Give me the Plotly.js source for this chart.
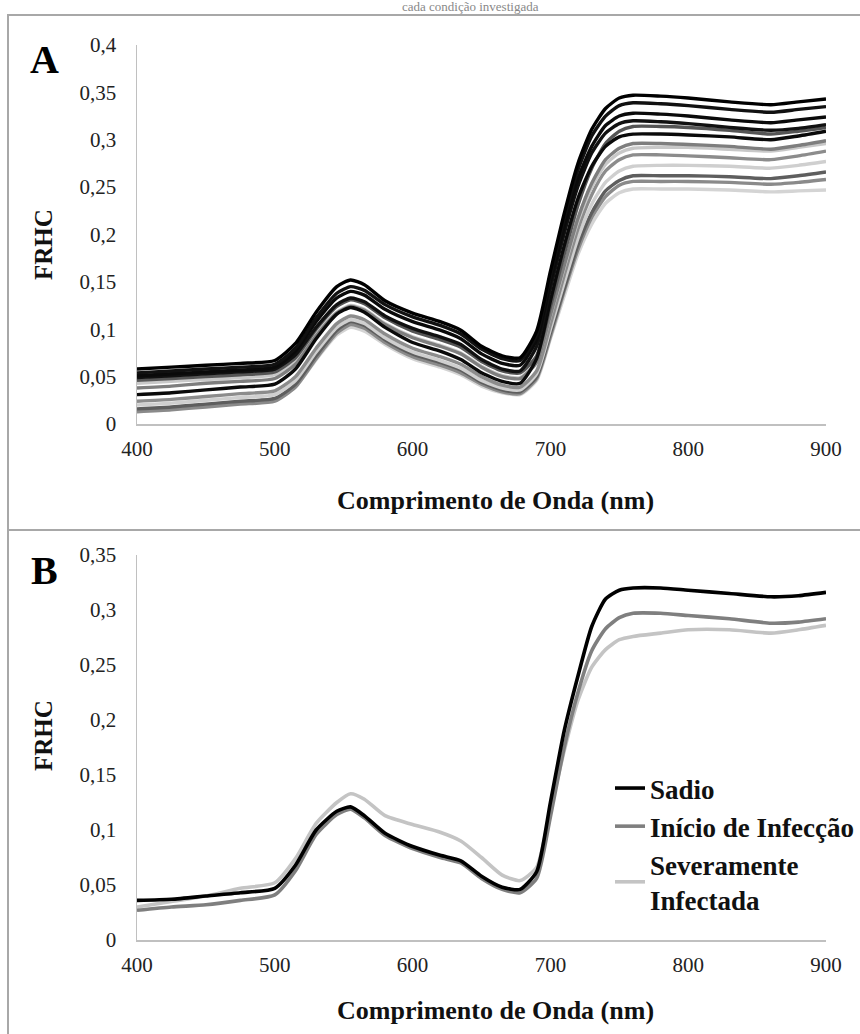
<!DOCTYPE html>
<html>
<head>
<meta charset="utf-8">
<script src="https://cdn.plot.ly/plotly-3.0.1.min.js"></script>
<style>html,body{margin:0;padding:0;background:#fff;}#chart{width:860px;height:1034px;}</style>
</head>
<body>
<div id="chart"></div>
<script>
// Wavelength grid (nm)
const wavelengths = [400,425,450,475,500,515,530,545,555,565,580,600,620,635,650,665,678,690,700,710,720,730,740,750,760,780,800,830,860,880,900];

// Panel A: individual spectra (FRHC)
const specA1 = [.058,.060,.062,.064,.067,.085,.118,.145,.152,.147,.130,.117,.108,.099,.082,.072,.070,.098,.161,.222,.275,.311,.333,.344,.347,.346,.344,.340,.337,.340,.343];
const specA2 = [.054,.056,.058,.060,.063,.080,.112,.138,.145,.141,.126,.113,.104,.095,.079,.069,.067,.094,.157,.217,.268,.304,.325,.336,.339,.338,.336,.332,.329,.332,.335];
const specA3 = [.051,.053,.055,.057,.060,.077,.108,.133,.140,.136,.121,.108,.099,.090,.074,.064,.062,.089,.150,.208,.259,.293,.315,.325,.328,.327,.325,.321,.318,.321,.324];
const specA4 = [.049,.051,.053,.055,.058,.073,.102,.126,.133,.129,.114,.101,.092,.084,.068,.058,.056,.082,.143,.201,.251,.286,.307,.317,.320,.319,.317,.313,.310,.312,.316];
const specA5 = [.031,.033,.036,.039,.042,.058,.090,.116,.123,.118,.102,.086,.077,.068,.054,.045,.043,.069,.130,.188,.238,.272,.293,.303,.306,.306,.305,.303,.300,.304,.309];
const specA6 = [.046,.048,.050,.052,.055,.070,.100,.124,.131,.127,.112,.098,.089,.081,.066,.056,.054,.072,.124,.179,.231,.270,.296,.309,.314,.314,.313,.310,.306,.309,.313];
const specA7 = [.038,.040,.043,.045,.048,.063,.093,.117,.124,.120,.105,.091,.082,.074,.060,.050,.048,.065,.115,.167,.217,.254,.279,.291,.296,.296,.295,.293,.290,.294,.299];
const specA8 = [.043,.045,.047,.049,.052,.066,.095,.118,.125,.121,.106,.092,.083,.075,.061,.051,.049,.066,.114,.165,.214,.250,.274,.286,.291,.292,.292,.290,.288,.292,.296];
const specA9 = [.024,.026,.029,.032,.035,.050,.080,.106,.114,.110,.095,.080,.071,.063,.050,.041,.039,.056,.105,.157,.206,.242,.267,.279,.284,.284,.283,.281,.279,.283,.288];
const specA10 = [.020,.022,.025,.028,.031,.046,.076,.102,.110,.106,.091,.076,.067,.059,.046,.038,.036,.053,.100,.149,.196,.232,.255,.267,.272,.273,.273,.272,.270,.273,.277];
const specA11 = [.016,.018,.021,.024,.027,.042,.072,.099,.108,.104,.089,.074,.065,.057,.044,.036,.034,.050,.096,.143,.189,.223,.246,.257,.262,.262,.262,.261,.259,.262,.266];
const specA12 = [.013,.015,.018,.021,.024,.039,.069,.096,.105,.101,.086,.071,.062,.054,.042,.034,.032,.048,.092,.140,.184,.218,.240,.252,.256,.256,.256,.255,.253,.255,.258];
const specA13 = [.014,.016,.019,.022,.025,.039,.068,.094,.102,.098,.084,.069,.060,.052,.040,.033,.031,.046,.090,.135,.179,.211,.233,.244,.248,.248,.248,.247,.245,.246,.247];

const panelASeries = [specA13, specA12, specA11, specA10, specA9, specA8, specA7, specA6, specA5, specA4, specA3, specA2, specA1];
const panelAColors = ['#d4d4d4','#8a8a8a','#5e5e5e','#cfcfcf','#8c8c8c','#c8c8c8','#7e7e7e','#555555','#0a0a0a','#111111','#0a0a0a','#111111','#000000'];

// Panel B: mean spectra per condition
const conditionNames = ['Sadio','Início de Infecção','Severamente<br>Infectada'];
const meanSadio = [.036,.037,.040,.043,.047,.068,.100,.117,.121,.113,.097,.085,.077,.072,.058,.048,.046,.062,.125,.190,.240,.285,.310,.318,.320,.320,.318,.315,.312,.313,.316];
const meanInicio = [.027,.030,.032,.036,.041,.063,.096,.114,.119,.111,.095,.083,.075,.070,.056,.046,.043,.056,.112,.175,.225,.263,.283,.293,.297,.297,.295,.292,.288,.289,.292];
const meanSevera = [.030,.035,.040,.047,.052,.074,.106,.125,.133,.128,.113,.105,.098,.090,.075,.059,.054,.066,.118,.172,.218,.248,.264,.273,.276,.279,.282,.282,.279,.282,.286];
const panelBSeries = [meanSevera, meanInicio, meanSadio];
const panelBNames = [conditionNames[2], conditionNames[1], conditionNames[0]];
const panelBColors = ['#c4c4c4','#7f7f7f','#000000'];

// Tick labels
const xTicks = [400,500,600,700,800,900];
const yTicksA = [0,0.05,0.1,0.15,0.2,0.25,0.3,0.35,0.4];
const yTickTextA = ['0','0,05','0,1','0,15','0,2','0,25','0,3','0,35','0,4'];
const yTicksB = [0,0.05,0.1,0.15,0.2,0.25,0.3,0.35];
const yTickTextB = ['0','0,05','0,1','0,15','0,2','0,25','0,3','0,35'];

const serif = '"Liberation Serif", "Times New Roman", "DejaVu Serif", serif';
const traces = [];
panelASeries.forEach((s, i) => {
  traces.push({x: wavelengths, y: s, xaxis: 'x', yaxis: 'y', type: 'scatter', mode: 'lines',
    line: {color: panelAColors[i], width: 3.4, shape: 'spline', smoothing: 0.6}, showlegend: false, hoverinfo: 'skip'});
});
const legendRank = [3, 2, 1];
panelBSeries.forEach((s, i) => {
  traces.push({x: wavelengths, y: s, xaxis: 'x2', yaxis: 'y2', type: 'scatter', mode: 'lines', name: panelBNames[i],
    legendrank: legendRank[i], legendgroup: 'g' + i,
    line: {color: panelBColors[i], width: 3.6, shape: 'spline', smoothing: 0.6}, hoverinfo: 'skip'});
});

const W = 860, H = 1034;
const px = v => v / W, py = v => 1 - v / H;
const tickFont = {family: serif, size: 21, color: '#222'};
const axisCommon = {showgrid: false, zeroline: false, showline: true, linecolor: '#c0c0c0', linewidth: 1.5,
  ticks: '', fixedrange: true};
const ann = (text, x, y, size, extra) => Object.assign({text, xref: 'paper', yref: 'paper', x: px(x), y: py(y),
  xanchor: 'center', yanchor: 'middle', showarrow: false, font: {family: serif, size, color: '#111'}}, extra || {});

const layout = {
  width: W, height: H, margin: {l: 0, r: 0, t: 0, b: 0},
  font: {family: serif, size: 18, color: '#222'},
  paper_bgcolor: '#fff', plot_bgcolor: '#fff',
  xaxis: Object.assign({}, axisCommon, {tickfont: tickFont, domain: [px(137), px(826)], range: [400, 900], tickvals: xTicks, anchor: 'y', ticklabelstandoff: 5}),
  yaxis: Object.assign({}, axisCommon, {tickfont: tickFont, domain: [py(424), py(45)], range: [0, 0.4], tickvals: yTicksA, ticktext: yTickTextA, anchor: 'x', ticklabelstandoff: 15}),
  xaxis2: Object.assign({}, axisCommon, {tickfont: tickFont, domain: [px(137), px(826)], range: [400, 900], tickvals: xTicks, anchor: 'y2', ticklabelstandoff: 5}),
  yaxis2: Object.assign({}, axisCommon, {tickfont: tickFont, domain: [py(940), py(555)], range: [0, 0.35], tickvals: yTicksB, ticktext: yTickTextB, anchor: 'x2', ticklabelstandoff: 15}),
  showlegend: true,
  legend: {x: px(610), y: py(764), xanchor: 'left', yanchor: 'top', bgcolor: 'rgba(0,0,0,0)',
    font: {family: serif, size: 27, color: '#111', weight: 'bold'}, tracegroupgap: 3, traceorder: 'normal'},
  shapes: [
    {type: 'rect', xref: 'paper', yref: 'paper', x0: px(8), x1: 1.05, y0: -0.05, y1: py(15), line: {color: '#a8a8a8', width: 2}},
    {type: 'line', xref: 'paper', yref: 'paper', x0: px(8), x1: 1.05, y0: py(530), y1: py(530), line: {color: '#a8a8a8', width: 2}}
  ],
  annotations: [
    ann('cada condição investigada', 470, 7, 13, {font: {family: serif, size: 13, color: '#888'}}),
    ann('<b>A</b>', 44, 60, 40, {font: {family: serif, size: 40, color: '#000'}}),
    ann('<b>B</b>', 44, 570, 40, {font: {family: serif, size: 40, color: '#000'}}),
    ann('<b>FRHC</b>', 43, 245, 25, {textangle: -90}),
    ann('<b>FRHC</b>', 43, 736, 25, {textangle: -90}),
    ann('<b>Comprimento de Onda (nm)</b>', 495, 500, 26),
    ann('<b>Comprimento de Onda (nm)</b>', 495, 1010, 26)
  ]
};

Plotly.newPlot('chart', traces, layout, {staticPlot: true, displayModeBar: false});
</script>
</body>
</html>
